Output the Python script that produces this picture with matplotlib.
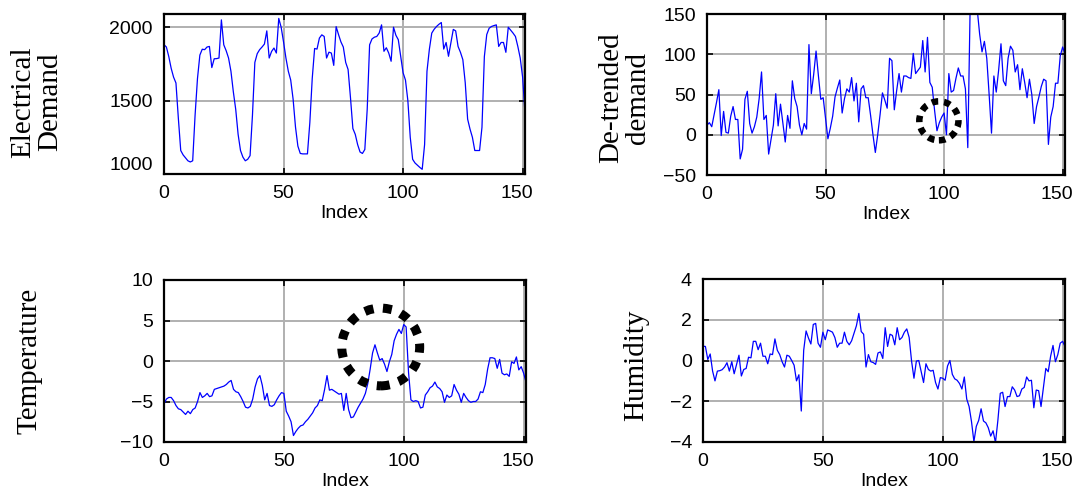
import matplotlib
matplotlib.use("Agg")
import matplotlib.pyplot as plt
from matplotlib.patches import Ellipse
from matplotlib.transforms import ScaledTranslation

# values, one per index 0..151
demand = [1881, 1865, 1800, 1720, 1660, 1620, 1380, 1160, 1130, 1110,
          1090, 1082, 1090, 1400, 1650, 1810, 1850, 1847, 1865, 1869,
          1725, 1785, 1786, 1790, 2050, 1880, 1840, 1790, 1700, 1560,
          1440, 1270, 1160, 1115, 1090, 1100, 1125, 1400, 1760, 1820,
          1847, 1865, 1885, 1975, 1790, 1835, 1858, 1824, 2060, 2000,
          1900, 1790, 1700, 1640, 1510, 1320, 1190, 1140, 1137, 1137,
          1137, 1350, 1650, 1855, 1851, 1926, 1948, 1937, 1790, 1830,
          1824, 1740, 2004, 1950, 1900, 1865, 1760, 1712, 1520, 1310,
          1270, 1200, 1150, 1140, 1167, 1441, 1880, 1920, 1932, 1937,
          1960, 2016, 1836, 1860, 1824, 1768, 2000, 1945, 1915, 1800,
          1690, 1640, 1500, 1250, 1100, 1075, 1060, 1045, 1032, 1200,
          1700, 1850, 1960, 1986, 2005, 2020, 2032, 1851, 1896, 1802,
          1892, 1985, 1975, 1869, 1829, 1779, 1622, 1374, 1306, 1250,
          1160, 1160, 1160, 1318, 1800, 1950, 1993, 2005, 2011, 2016,
          1869, 1896, 1896, 1829, 2000, 1980, 1960, 1937, 1869, 1790,
          1660, 1415]

detrended = [12, 15, 10, 25, 40, 56, -1, 29, 3, 2,
             23, 35, 19, 19, -30, -18, 44, 54, 14, 2,
             10, 22, 45, 78, 19, 24, -24, -6, 12, 51,
             11, 38, 15, -9, 24, 8, 67, 45, 35, 12,
             0, 14, 7, 112, 51, 75, 104, 73, 44, 46,
             20, -5, 8, 23, 47, 58, 68, 27, 45, 57,
             53, 71, 42, 64, 16, 57, 61, 46, 46, 24,
             0, -22, 0, 25, 52, 43, 33, 95, 92, 31,
             55, 76, 53, 73, 73, 71, 70, 101, 76, 80,
             84, 117, 78, 121, 65, 59, 30, 5, 15, 22,
             27, 0, 76, 53, 55, 70, 83, 73, 73, 57,
             -16, 160, 180, 170, 155, 125, 103, 116, 95, 50,
             2, 73, 53, 80, 113, 67, 61, 95, 110, 105,
             78, 87, 56, 82, 65, 46, 69, 50, 14, 35,
             47, 60, 69, 67, -12, 22, 35, 64, 64, 98,
             109, 100]

temperature = [-5.3, -4.7, -4.5, -4.5, -4.9, -5.5, -5.9, -6.0, -6.3, -6.6,
               -6.2, -6.5, -6.0, -5.8, -5.0, -3.9, -4.5, -4.3, -4.0, -4.4,
               -4.3, -3.5, -3.4, -3.3, -3.2, -3.1, -2.9, -2.6, -2.4, -3.5,
               -3.8, -3.9, -4.4, -5.0, -5.7, -5.8, -5.6, -4.7, -3.2, -2.2,
               -1.8, -3.0, -4.8, -4.0, -5.5, -5.6, -5.4, -4.8, -4.3, -3.9,
               -4.0, -6.2, -6.8, -7.5, -9.2, -8.7, -8.3, -8.0, -7.9, -7.5,
               -7.2, -6.8, -6.4, -5.8, -5.5, -4.8, -4.9, -3.5, -1.8, -3.6,
               -3.5, -3.7, -3.9, -4.1, -4.0, -6.1, -4.0, -6.0, -7.0, -6.9,
               -6.3, -5.7, -5.2, -4.7, -4.0, -2.8, -1.0, 1.0, 2.0, 1.0,
               0.1, 0.3, -0.4, -1.3, -0.1, 0.8, 2.5, 3.3, 3.9, 3.4,
               4.5, 4.2, -1.4, -4.8, -5.0, -4.9, -5.0, -5.8, -5.7, -4.2,
               -3.8, -3.3, -3.1, -2.6, -3.2, -3.4, -3.8, -5.1, -4.2, -4.5,
               -4.3, -2.9, -3.6, -4.1, -5.1, -4.0, -4.5, -4.9, -5.1, -5.0,
               -5.0, -4.7, -3.8, -3.9, -2.9, -1.0, 0.4, 0.4, 0.3, -0.9,
               0.2, -1.5, -1.7, -1.6, -1.9, -0.1, -0.3, 0.5, -1.1, -0.7,
               -1.5, -2.6]

humidity = [0.7, 0.69, 0.05, 0.32, -0.52, -1.0, -0.52, -0.5, -0.45, -0.32,
            -0.11, -0.52, -0.06, -0.65, -0.19, 0.26, -0.76, -0.44, -0.39, 0.16,
            0.13, 0.94, 0.94, 0.53, 0.85, 0.21, 0.21, -0.16, 0.32, 0.29,
            1.06, 0.5, 0.29, -0.06, -0.32, 0.26, 0.21, 0.0, -0.23, -1.0,
            -0.7, -2.48, 0.5, 1.45, 1.1, 0.81, 1.77, 1.82, 0.85, 0.65,
            1.39, 1.02, 1.5, 1.45, 1.39, 1.13, 0.65, 0.85, 0.85, 1.39,
            0.94, 0.77, 0.97, 1.34, 1.71, 2.31, 1.42, 1.29, -0.32, 0.29,
            -0.06, -0.1, -0.19, 0.37, 0.42, 0.1, 1.61, 0.69, 1.29, 1.23,
            0.77, 1.61, 1.02, 1.13, 1.39, 1.55, 1.13, -0.03, -0.87, -0.03,
            0.0, -0.55, -1.08, -0.16, -0.44, -0.52, -0.48, -1.08, -1.4, -0.84,
            -0.87, -0.97, -0.27, 0.0, -0.68, -0.9, -0.97, -1.13, -1.4, -0.81,
            -1.89, -2.26, -3.0, -3.98, -3.23, -2.94, -2.37, -2.97, -3.06, -3.3,
            -3.71, -3.45, -4.03, -2.94, -1.61, -1.56, -2.26, -1.77, -1.77, -1.29,
            -1.45, -1.77, -1.73, -1.4, -1.32, -0.81, -1.0, -0.97, -2.32, -1.45,
            -1.48, -2.26, -1.32, -0.39, -0.55, 0.21, 0.74, -0.06, 0.29, 0.85,
            0.94, 0.69]

xticks = [0, 50, 100, 150]
idx = list(range(len(demand)))

W, H = 1077, 495
fig = plt.figure(figsize=(W / 100, H / 100), dpi=100)

sans = "Liberation Sans"
serif = "Liberation Serif"


def panel(box, y, ylim, yticks, label, lab_xy):
    l, t, r, b = box
    ax = fig.add_axes([l / W, 1 - b / H, (r - l) / W, (b - t) / H])
    ax.plot(idx, y, color="#0000ff", lw=0.9)
    ax.set_xlim(0, 151)
    ax.set_ylim(*ylim)
    ax.set_xticks(xticks)
    ax.set_yticks(yticks)
    ax.grid(True, color="#b0b0b0", lw=1.4)
    ax.set_axisbelow(True)
    for s in ax.spines.values():
        s.set_linewidth(1.6)
    ax.tick_params(direction="in", length=4, width=1.2, top=True, right=True,
                   labelsize=14, pad=8)
    for t_ in ax.get_xticklabels() + ax.get_yticklabels():
        t_.set_fontfamily(sans)
    # the last x label sits a little inside, as in the original
    last = ax.get_xticklabels()[-1]
    last.set_transform(last.get_transform()
                       + ScaledTranslation(-6 / 100, 0, fig.dpi_scale_trans))
    ax.set_xlabel("Index", fontsize=14, fontfamily=sans, labelpad=2)
    fig.text(lab_xy[0] / W, 1 - lab_xy[1] / H, label, rotation=90,
             ha="center", va="center", multialignment="center",
             fontsize=21, fontfamily=serif, linespacing=1.05)
    return ax


ax1 = panel((164, 14, 525, 174), demand, (1000, 2090), [1000, 1500, 2000],
            "Electrical\nDemand", (37, 102))
ax1.get_yticklabels()[0].set_va("bottom")

ax2 = panel((707, 14, 1065, 175), detrended, (-50, 150), [-50, 0, 50, 100, 150],
            "De-trended\ndemand", (625, 98))
ax2.add_patch(Ellipse((97.8, 17.3), 16.5, 48.4, fill=False, ec="black",
                      lw=4.7, linestyle=(0, (1, 0.9)), zorder=5))

ax3 = panel((164, 280, 526, 442), temperature, (-10, 10), [-10, -5, 0, 5, 10],
            "Temperature", (30, 361))
ax3.add_patch(Ellipse((90.4, 1.73), 32.5, 9.6, fill=False, ec="black",
                      lw=6.5, linestyle=(0, (1, 1.05)), zorder=5))

ax4 = panel((703, 279, 1065, 442), humidity, (-4, 4), [-4, -2, 0, 2, 4],
            "Humidity", (636, 365))

fig.savefig("out.png", dpi=100)
